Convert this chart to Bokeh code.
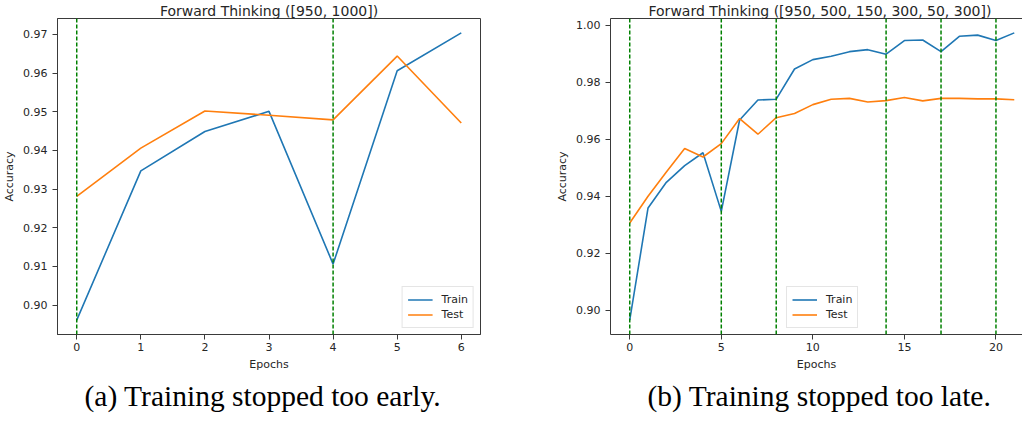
from bokeh.plotting import figure
from bokeh.models import (Range1d, FixedTicker, PrintfTickFormatter, Legend, LegendItem,
                          Span, Title, LinearAxis)
from bokeh.layouts import row
from bokeh.embed import file_html
from bokeh.resources import INLINE

# ---------------- data ----------------
epochs_a = [0, 1, 2, 3, 4, 5, 6]
train_a = [0.8961, 0.9347, 0.9449, 0.9501, 0.9106, 0.9606, 0.9704]
test_a = [0.9281, 0.9406, 0.9502, 0.9491, 0.9479, 0.9644, 0.9471]
stops_a = [0, 4]
xticks_a = [0, 1, 2, 3, 4, 5, 6]
yticks_a = [0.90, 0.91, 0.92, 0.93, 0.94, 0.95, 0.96, 0.97]
title_a = "Forward Thinking ([950, 1000])"
caption_a = "(a) Training stopped too early."

epochs_b = list(range(22))
train_b = [0.8965, 0.9359, 0.9449, 0.9508, 0.9553, 0.9347, 0.9668, 0.9738, 0.9741, 0.9847,
           0.9880, 0.9892, 0.9908, 0.9915, 0.9899, 0.9947, 0.9949, 0.9908, 0.9962, 0.9966,
           0.9947, 0.9974]
test_b = [0.9306, 0.9400, 0.9485, 0.9568, 0.9538, 0.9585, 0.9673, 0.9618, 0.9676, 0.9691,
          0.9722, 0.9741, 0.9744, 0.9731, 0.9736, 0.9747, 0.9735, 0.9744, 0.9744, 0.9742,
          0.9742, 0.9739]
stops_b = [0, 5, 8, 14, 17, 20]
xticks_b = [0, 5, 10, 15, 20]
yticks_b = [0.90, 0.92, 0.94, 0.96, 0.98, 1.00]
title_b = "Forward Thinking ([950, 500, 150, 300, 50, 300])"
caption_b = "(b) Training stopped too late."

# ---------------- style ----------------
FONT = "DejaVu Sans"
SERIF = "Liberation Serif"
TXT = "#262626"
SPINE = "#3a3a3a"
C_TRAIN = "#1f77b4"
C_TEST = "#ff7f0e"
FRAME_H = 316
TOP = 15
TOTAL_H = 414


def build(epochs, train, test, stops, title, caption, xticks, yticks,
          frame_w, b_left, b_right, legend_loc, cut_right=False,
          title_offset=None, caption_offset=None):
    lo, hi = min(train + test), max(train + test)
    ypad = 0.05 * (hi - lo)
    xpad = 0.05 * (max(epochs) - min(epochs))
    x0 = min(epochs) - xpad
    full = (max(epochs) + xpad) - x0
    x1 = x0 + full * (frame_w / 423.0) if cut_right else max(epochs) + xpad

    p = figure(frame_width=frame_w, frame_height=FRAME_H,
               x_range=Range1d(x0, x1), y_range=Range1d(lo - ypad, hi + ypad),
               output_backend="svg", toolbar_location=None,
               min_border_left=b_left, min_border_right=b_right,
               min_border_top=TOP, min_border_bottom=TOTAL_H - TOP - FRAME_H,
               background_fill_color="white", border_fill_color="white")
    p.xgrid.visible = False
    p.ygrid.visible = False

    p.title.text = title
    if title_offset is None:
        p.title.align = "center"
    else:
        p.title.align = "left"
        p.title.offset = title_offset
    p.title.text_font = FONT
    p.title.text_font_size = "14px"
    p.title.text_font_style = "normal"
    p.title.text_color = TXT
    p.title.text_line_height = 1.0
    p.title.standoff = 0

    for ax in (p.xaxis[0], p.yaxis[0]):
        ax.major_tick_out = 5
        ax.major_tick_in = 0
        ax.minor_tick_out = 0
        ax.minor_tick_in = 0
        ax.axis_line_color = SPINE
        ax.major_tick_line_color = SPINE
        ax.major_label_text_font = FONT
        ax.major_label_text_font_size = "11px"
        ax.major_label_text_color = TXT
        ax.axis_label_text_font = FONT
        ax.axis_label_text_font_size = "11px"
        ax.axis_label_text_font_style = "normal"
        ax.axis_label_text_color = TXT
    p.xaxis.ticker = FixedTicker(ticks=xticks)
    p.yaxis.ticker = FixedTicker(ticks=yticks)
    p.yaxis.formatter = PrintfTickFormatter(format="%.2f")
    p.xaxis.major_label_standoff = 3
    p.yaxis.major_label_standoff = 5
    p.xaxis.axis_label_standoff = 4
    p.yaxis.axis_label_standoff = 4
    p.xaxis.axis_label = "Epochs"
    p.yaxis.axis_label = "Accuracy"

    if cut_right:
        p.outline_line_color = None
        top = LinearAxis(ticker=FixedTicker(ticks=[]), major_label_text_font_size="0px",
                         major_tick_out=0, major_tick_in=0, minor_tick_out=0, minor_tick_in=0,
                         axis_line_color=SPINE)
        p.add_layout(top, "above")
    else:
        p.outline_line_color = SPINE

    r1 = p.line(epochs, train, line_color=C_TRAIN, line_width=1.6)
    r2 = p.line(epochs, test, line_color=C_TEST, line_width=1.6)

    for s in stops:
        p.add_layout(Span(location=s, dimension="height", line_color="#008000",
                          line_dash="4 2", line_width=1.5))

    leg = Legend(items=[LegendItem(label="Train", renderers=[r1]),
                        LegendItem(label="Test", renderers=[r2])],
                 location=legend_loc, margin=6, padding=5, spacing=0,
                 glyph_width=25, glyph_height=15, label_height=15, label_standoff=9,
                 label_text_font=FONT, label_text_font_size="11px", label_text_color=TXT,
                 border_line_color="#cccccc", border_line_width=1,
                 background_fill_color="white", background_fill_alpha=0.8)
    p.add_layout(leg)

    cap = Title(text=caption, text_font=SERIF, text_font_size="29.5px",
                text_font_style="normal", text_color="black", standoff=8)
    if caption_offset is None:
        cap.align = "center"
    else:
        cap.align = "left"
        cap.offset = caption_offset
    p.add_layout(cap, "below")
    return p


pa = build(epochs_a, train_a, test_a, stops_a, title_a, caption_a, xticks_a, yticks_a,
           frame_w=423, b_left=52, b_right=65, legend_loc="bottom_right",
           caption_offset=27)
pb = build(epochs_b, train_b, test_b, stops_b, title_b, caption_b, xticks_b, yticks_b,
           frame_w=412, b_left=65, b_right=0, legend_loc=(176, 6), cut_right=True,
           title_offset=38, caption_offset=37)

layout = row(pa, pb)
open("out.html", "w").write(file_html(layout, INLINE))
